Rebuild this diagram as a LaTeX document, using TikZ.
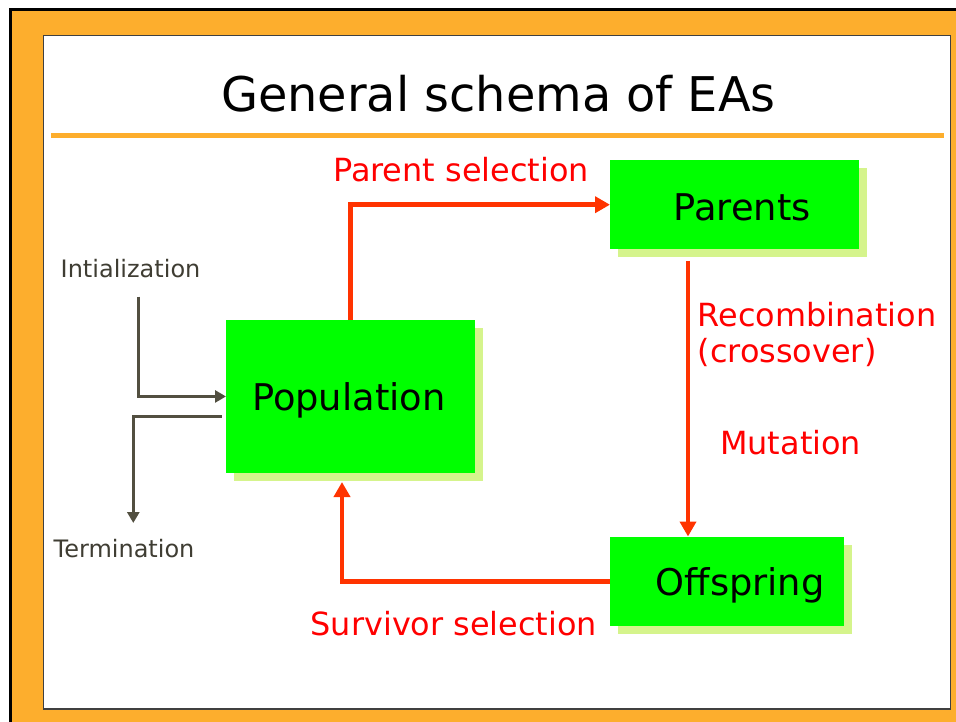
\documentclass[tikz,border=0pt]{standalone}
\usepackage{fontspec}
\setmainfont{DejaVu Sans}
\usetikzlibrary{arrows.meta,shadows}
\definecolor{frameorange}{HTML}{FDAE2D}
\definecolor{boxgreen}{HTML}{00FF00}
\definecolor{shadowgreen}{HTML}{D5F48C}
\definecolor{arrowred}{HTML}{FF3300}
\definecolor{textred}{HTML}{FF0000}
\definecolor{olivegray}{HTML}{524F40}
\definecolor{labelgray}{HTML}{3F3D33}
\tikzset{
  greenbox/.style={fill=boxgreen, draw=none, inner sep=0pt, anchor=north west,
    drop shadow={shadow xshift=8pt, shadow yshift=-8pt, fill=shadowgreen, opacity=1}},
  boxtext/.style={anchor=base west, inner sep=0pt, font=\fontsize{36.8}{44}\selectfont},
  redlabel/.style={anchor=base west, inner sep=0pt, text=textred, font=\fontsize{31.9}{38}\selectfont},
  graylabel/.style={anchor=base west, inner sep=0pt, text=labelgray, font=\fontsize{24}{29}\selectfont},
  redarrow/.style={draw=arrowred, line width=4.6pt, -{Triangle[length=15pt,width=16pt]}},
  grayarrow/.style={draw=olivegray, line width=3.4pt, -{Triangle[length=11pt,width=12pt]}},
}
\begin{document}
\begin{tikzpicture}[x=1pt,y=-1pt]
\useasboundingbox (0,0) rectangle (956,722);
% frame
\fill[white] (0,0) rectangle (956,722);
\fill[black] (9,8) rectangle (962,728);
\fill[frameorange] (12,11) rectangle (962,728);
\filldraw[fill=white, draw=black!75, line width=1.5pt] (43.3,35.5) rectangle (950.7,709);
\fill[frameorange] (51,133.5) rectangle (944,138.5);
% title
\node[anchor=base west, inner sep=0pt, font=\fontsize{47.8}{58}\selectfont] (title) at (221,111.7) {General schema of EAs};
% boxes
\node[greenbox, minimum width=249pt, minimum height=152.5pt] (pop) at (226,320) {};
\node[greenbox, minimum width=249pt, minimum height=89pt] (par) at (610,160) {};
\node[greenbox, minimum width=234pt, minimum height=89.5pt] (off) at (610,536.5) {};
\node[boxtext] (poptext) at (252,410.7) {Population};
\node[boxtext] (partext) at (673.5,220.7) {Parents};
\node[boxtext] (offtext) at (655.5,595) {Offspring};
% red connectors
\draw[redarrow] ([xshift=-0.5pt]pop.north) |- (par.west);
\coordinate (r0) at (688,261);
\draw[redarrow] (r0) -- (r0 |- off.north);
\coordinate (s1) at (342,482);
\draw[redarrow] (off.west) -| (s1);
% red labels
\node[redlabel] (lps) at (333,181.7) {Parent selection};
\node[redlabel] (lrec) at (697.5,326) {Recombination};
\node[redlabel] (lcro) at (697.5,362.7) {(crossover)};
\node[redlabel] (lmut) at (720,454) {Mutation};
\node[redlabel] (lsur) at (310.5,635) {Survivor selection};
% gray connectors
\coordinate (i0) at (138.3,296.7);
\draw[grayarrow] (i0) |- (pop.west);
\coordinate (t0) at (221.7,416.7);
\coordinate (t1) at (133.3,523);
\draw[grayarrow] (t0) -| (t1);
\node[graylabel] (linit) at (60.5,277.5) {Intialization};
\node[graylabel] (lterm) at (53.5,557) {Termination};
\end{tikzpicture}
\end{document}
